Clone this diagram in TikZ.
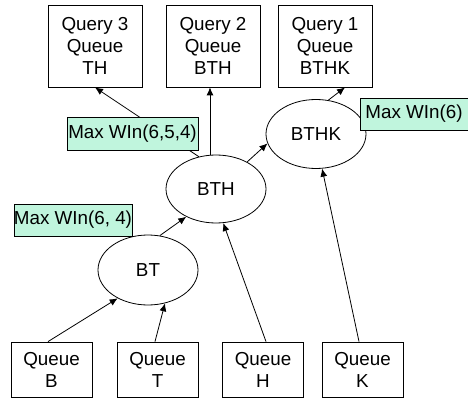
\documentclass[tikz,border=0pt]{standalone}
\usepackage{fontspec}
\setmainfont{Liberation Sans}
\usetikzlibrary{calc,arrows.meta,shapes.geometric}
\definecolor{mint}{RGB}{192,245,221}
\begin{document}
\begin{tikzpicture}[x=1pt,y=-1pt,
  every node/.style={font=\fontsize{18.8}{22}\selectfont, align=center, inner sep=0pt, line width=0.8pt},
  qbox/.style={draw, rectangle, minimum width=94pt, minimum height=82pt},
  inbox/.style={draw, rectangle, minimum width=81pt, minimum height=55pt},
  opnode/.style={draw, ellipse, minimum width=100pt, minimum height=69pt},
  winlabel/.style={draw, rectangle, fill=mint, minimum height=32pt},
  conn/.style={draw, line width=0.8pt, -{Latex[length=8pt,width=7pt]}}
]
\useasboundingbox (0,0) rectangle (468,398);
% query boxes
\node[qbox] (Q3) at (95,46) {Query 3\\Queue\\TH};
\node[qbox] (Q2) at (213,46) {Query 2\\Queue\\BTH};
\node[qbox] (Q1) at (325,46) {Query 1\\Queue\\BTHK};
% input queues
\node[inbox] (B) at (51.5,369.5) {Queue\\B};
\node[inbox] (T) at (157.5,369.5) {Queue\\T};
\node[inbox] (H) at (263,369.5) {Queue\\H};
\node[inbox] (K) at (362.5,369.5) {Queue\\K};
% operators
\node[opnode] (BTHK) at (316,134) {BTHK};
\node[opnode, minimum height=68pt] (BTH) at (216,189) {BTH};
\node[opnode, minimum height=70pt] (BT) at (148,270) {BT};
% connectors
\coordinate (Bt) at ($(B.north)+(-3.5,0)$);
\coordinate (Tt) at ($(T.north)+(-2.5,0)$);
\coordinate (Ht) at ($(H.north)+(3,0)$);
\coordinate (Kt) at ($(K.north)+(-3.5,0)$);
\coordinate (Q3b) at (Q3.south);
\coordinate (Q1b) at ($(Q1.south)+(20,0)$);
\draw[conn] (Bt) -- (BT.223);
\draw[conn] (Tt) -- (BT.297);
\draw[conn] (Ht) -- (BTH.282);
\draw[conn] (Kt) -- (BTHK.280);
\draw[conn] (BT.71) -- (BTH.223);
\draw[conn] (BTH.41) -- (BTHK.191);
\draw[conn] (BTH.118) -- (Q3b);
\draw[conn] (BTH.100) -- (BTH.100 |- Q2.south);
\draw[conn] (BTHK.70) -- (Q1b);
% window labels
\node[winlabel, minimum width=131pt, minimum height=33pt] (L1) at (132.5,133.5) {Max WIn(6,5,4)};
\node[winlabel, minimum width=108pt] (L2) at (414,114) {Max WIn(6)};
\node[winlabel, minimum width=112pt] (L3) at (73,220) {Max WIn(6, 4)};
\end{tikzpicture}
\end{document}
